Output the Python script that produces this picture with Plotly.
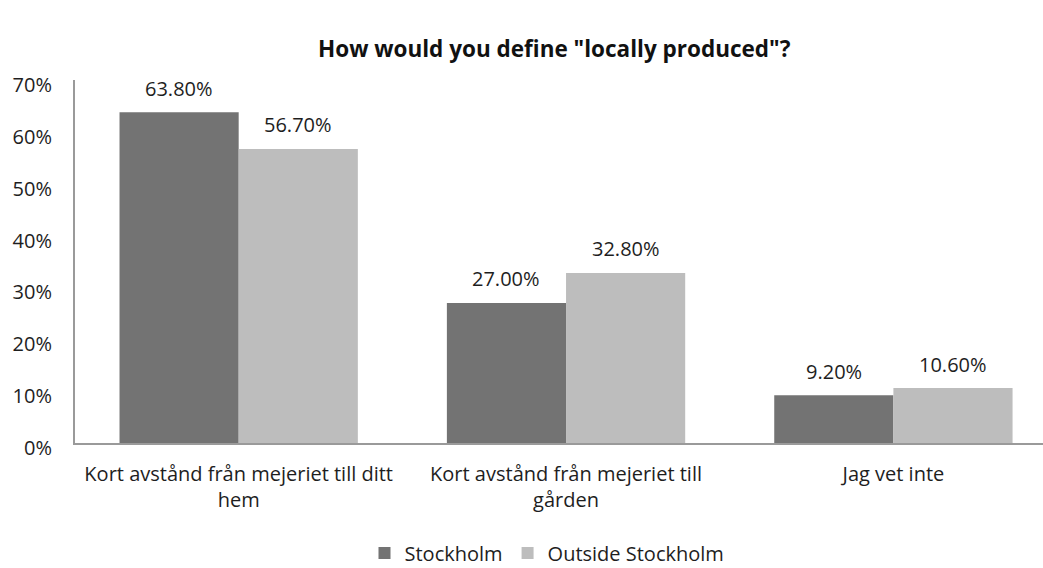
import plotly.graph_objects as go

categories = [
    "Kort avstånd från mejeriet till ditt<br>hem",
    "Kort avstånd från mejeriet till<br>gården",
    "Jag vet inte",
]
stockholm = [63.8, 27.0, 9.2]
outside_stockholm = [56.7, 32.8, 10.6]
series_names = ["Stockholm", "Outside Stockholm"]
y_ticks = [0, 10, 20, 30, 40, 50, 60, 70]
title_text = 'How would you define "locally produced"?'

FONT = "Open Sans, DejaVu Sans, sans-serif"
colors = ["#737373", "#bdbdbd"]
TXT = "#1e1e1e"
LEFT = 75
TOP, BOTTOM = 80, 443          # plot area edges in pixels
PLOT_H = BOTTOM - TOP
PLOT_W = 1043 - LEFT

fig = go.Figure()
for name, vals, col, off in zip(series_names, [stockholm, outside_stockholm], colors, [-1, 1]):
    fig.add_trace(go.Bar(
        x=list(range(len(categories))), y=vals, name=name,
        marker=dict(color=col, line=dict(width=0)),
    ))
    # value labels above each bar
    for i, v in enumerate(vals):
        fig.add_annotation(
            x=i + off * 0.182, y=v, xref="x", yref="y",
            text=f"{v:.2f}%", showarrow=False,
            yanchor="middle", yshift=24,
            font=dict(family=FONT, size=20, color=TXT),
        )

# chart title
fig.add_annotation(
    text=f"<b>{title_text}</b>", x=(554 - LEFT) / PLOT_W, xref="paper", xanchor="center",
    y=1 + (TOP - 48) / PLOT_H, yref="paper", yanchor="middle", showarrow=False,
    font=dict(family=FONT, size=22.5, color="#111"),
)

fig.update_layout(
    width=1043, height=568,
    margin=dict(l=LEFT, r=0, t=TOP, b=568 - BOTTOM, autoexpand=False),
    paper_bgcolor="white", plot_bgcolor="white",
    barmode="group", bargap=0.272, bargroupgap=0,
    font=dict(family=FONT, size=20, color=TXT),
    showlegend=True,
    legend=dict(
        orientation="h", x=(547 - LEFT) / PLOT_W, xref="paper", xanchor="center",
        yref="container", y=(568 - 553) / 568, yanchor="middle",
        font=dict(family=FONT, size=20, color=TXT), tracegroupgap=0,
    ),
)

fig.update_xaxes(
    tickmode="array", tickvals=list(range(len(categories))), ticktext=categories,
    range=[-0.5, 2.457], showline=True, linecolor="#9a9a9a", linewidth=2,
    showgrid=False, ticks="", ticklabelstandoff=12,
    tickfont=dict(family=FONT, size=20, color=TXT), zeroline=False,
)
fig.update_yaxes(
    range=[0, 70], tickvals=y_ticks, ticktext=[f"{t}%" for t in y_ticks],
    showline=True, linecolor="#9a9a9a", linewidth=2, showgrid=False,
    ticks="", ticklabelstandoff=17, ticklabelshift=5, zeroline=False,
    tickfont=dict(family=FONT, size=20, color=TXT),
)

fig.write_html("out.html")
